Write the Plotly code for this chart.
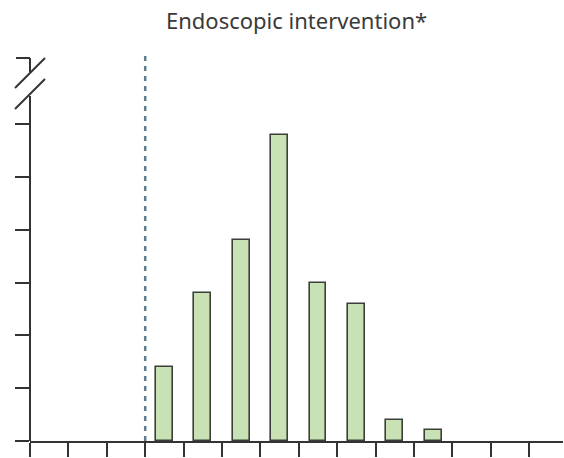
import plotly.graph_objects as go

# Data (y ticks every 5 units, unlabeled)
bin_start = [3, 4, 5, 6, 7, 8, 9, 10]
counts = [7, 14, 19, 29, 15, 13, 2, 1]
threshold = 3
x_ticks = list(range(0, 14))
y_ticks = [0, 5, 10, 15, 20, 25, 30]
title_text = "Endoscopic intervention*"

W, H = 564, 458
ML, MR, MT, MB = 30, 1, 58, 17
x_max = 13.88
y_max = 36.27

line_col = "#333333"

fig = go.Figure()
fig.add_trace(go.Bar(
    x=bin_start, y=counts, width=0.44, offset=0.28,
    marker=dict(color="#c8e1b5", line=dict(color="#3a3f38", width=1.6)),
    showlegend=False, hoverinfo="skip",
))

pw = W - ML - MR
ph = H - MT - MB

def px_x(p):
    return (p - ML) / pw

def px_y(p):
    return (H - MB - p) / ph

shapes = []
# threshold dotted line
shapes.append(dict(type="line", xref="x", yref="paper", x0=threshold, x1=threshold,
                   y0=0, y1=px_y(55), line=dict(color="#5d7c8c", width=2.5, dash="5px,5px"),
                   layer="below"))
# broken y-axis line
shapes.append(dict(type="line", xref="paper", yref="paper", x0=0, x1=0,
                   y0=0, y1=px_y(96), line=dict(color=line_col, width=2)))
shapes.append(dict(type="line", xref="paper", yref="paper", x0=0, x1=0,
                   y0=px_y(72), y1=1, line=dict(color=line_col, width=2)))
# top tick
shapes.append(dict(type="line", xref="paper", yref="paper", x0=px_x(16), x1=0,
                   y0=1, y1=1, line=dict(color=line_col, width=2)))
# break slashes
shapes.append(dict(type="line", xref="paper", yref="paper", x0=px_x(15), x1=px_x(45),
                   y0=px_y(88), y1=px_y(58), line=dict(color=line_col, width=2)))
shapes.append(dict(type="line", xref="paper", yref="paper", x0=px_x(15), x1=px_x(45),
                   y0=px_y(109), y1=px_y(79), line=dict(color=line_col, width=2)))

fig.update_layout(
    width=W, height=H,
    margin=dict(l=ML, r=MR, t=MT, b=MB, pad=0),
    paper_bgcolor="white", plot_bgcolor="white",
    shapes=shapes,
    bargap=0,
    annotations=[dict(text=title_text, xref="paper", yref="paper", x=0.5,
                      y=px_y(20), yanchor="middle", xanchor="center", showarrow=False,
                      font=dict(family="Noto Sans", size=22, color="#3a3a3a"))],
    xaxis=dict(range=[0, x_max], tickvals=x_ticks, showticklabels=False,
               ticks="outside", ticklen=14, tickwidth=2, tickcolor=line_col,
               showline=True, linecolor=line_col, linewidth=2,
               showgrid=False, zeroline=False, fixedrange=True),
    yaxis=dict(range=[0, y_max], tickvals=y_ticks, showticklabels=False,
               ticks="outside", ticklen=14, tickwidth=2, tickcolor=line_col,
               showline=False, showgrid=False, zeroline=False, fixedrange=True),
)

fig.write_html("out.html", config={"displayModeBar": False},
               post_script="document.body.style.margin='0';")
